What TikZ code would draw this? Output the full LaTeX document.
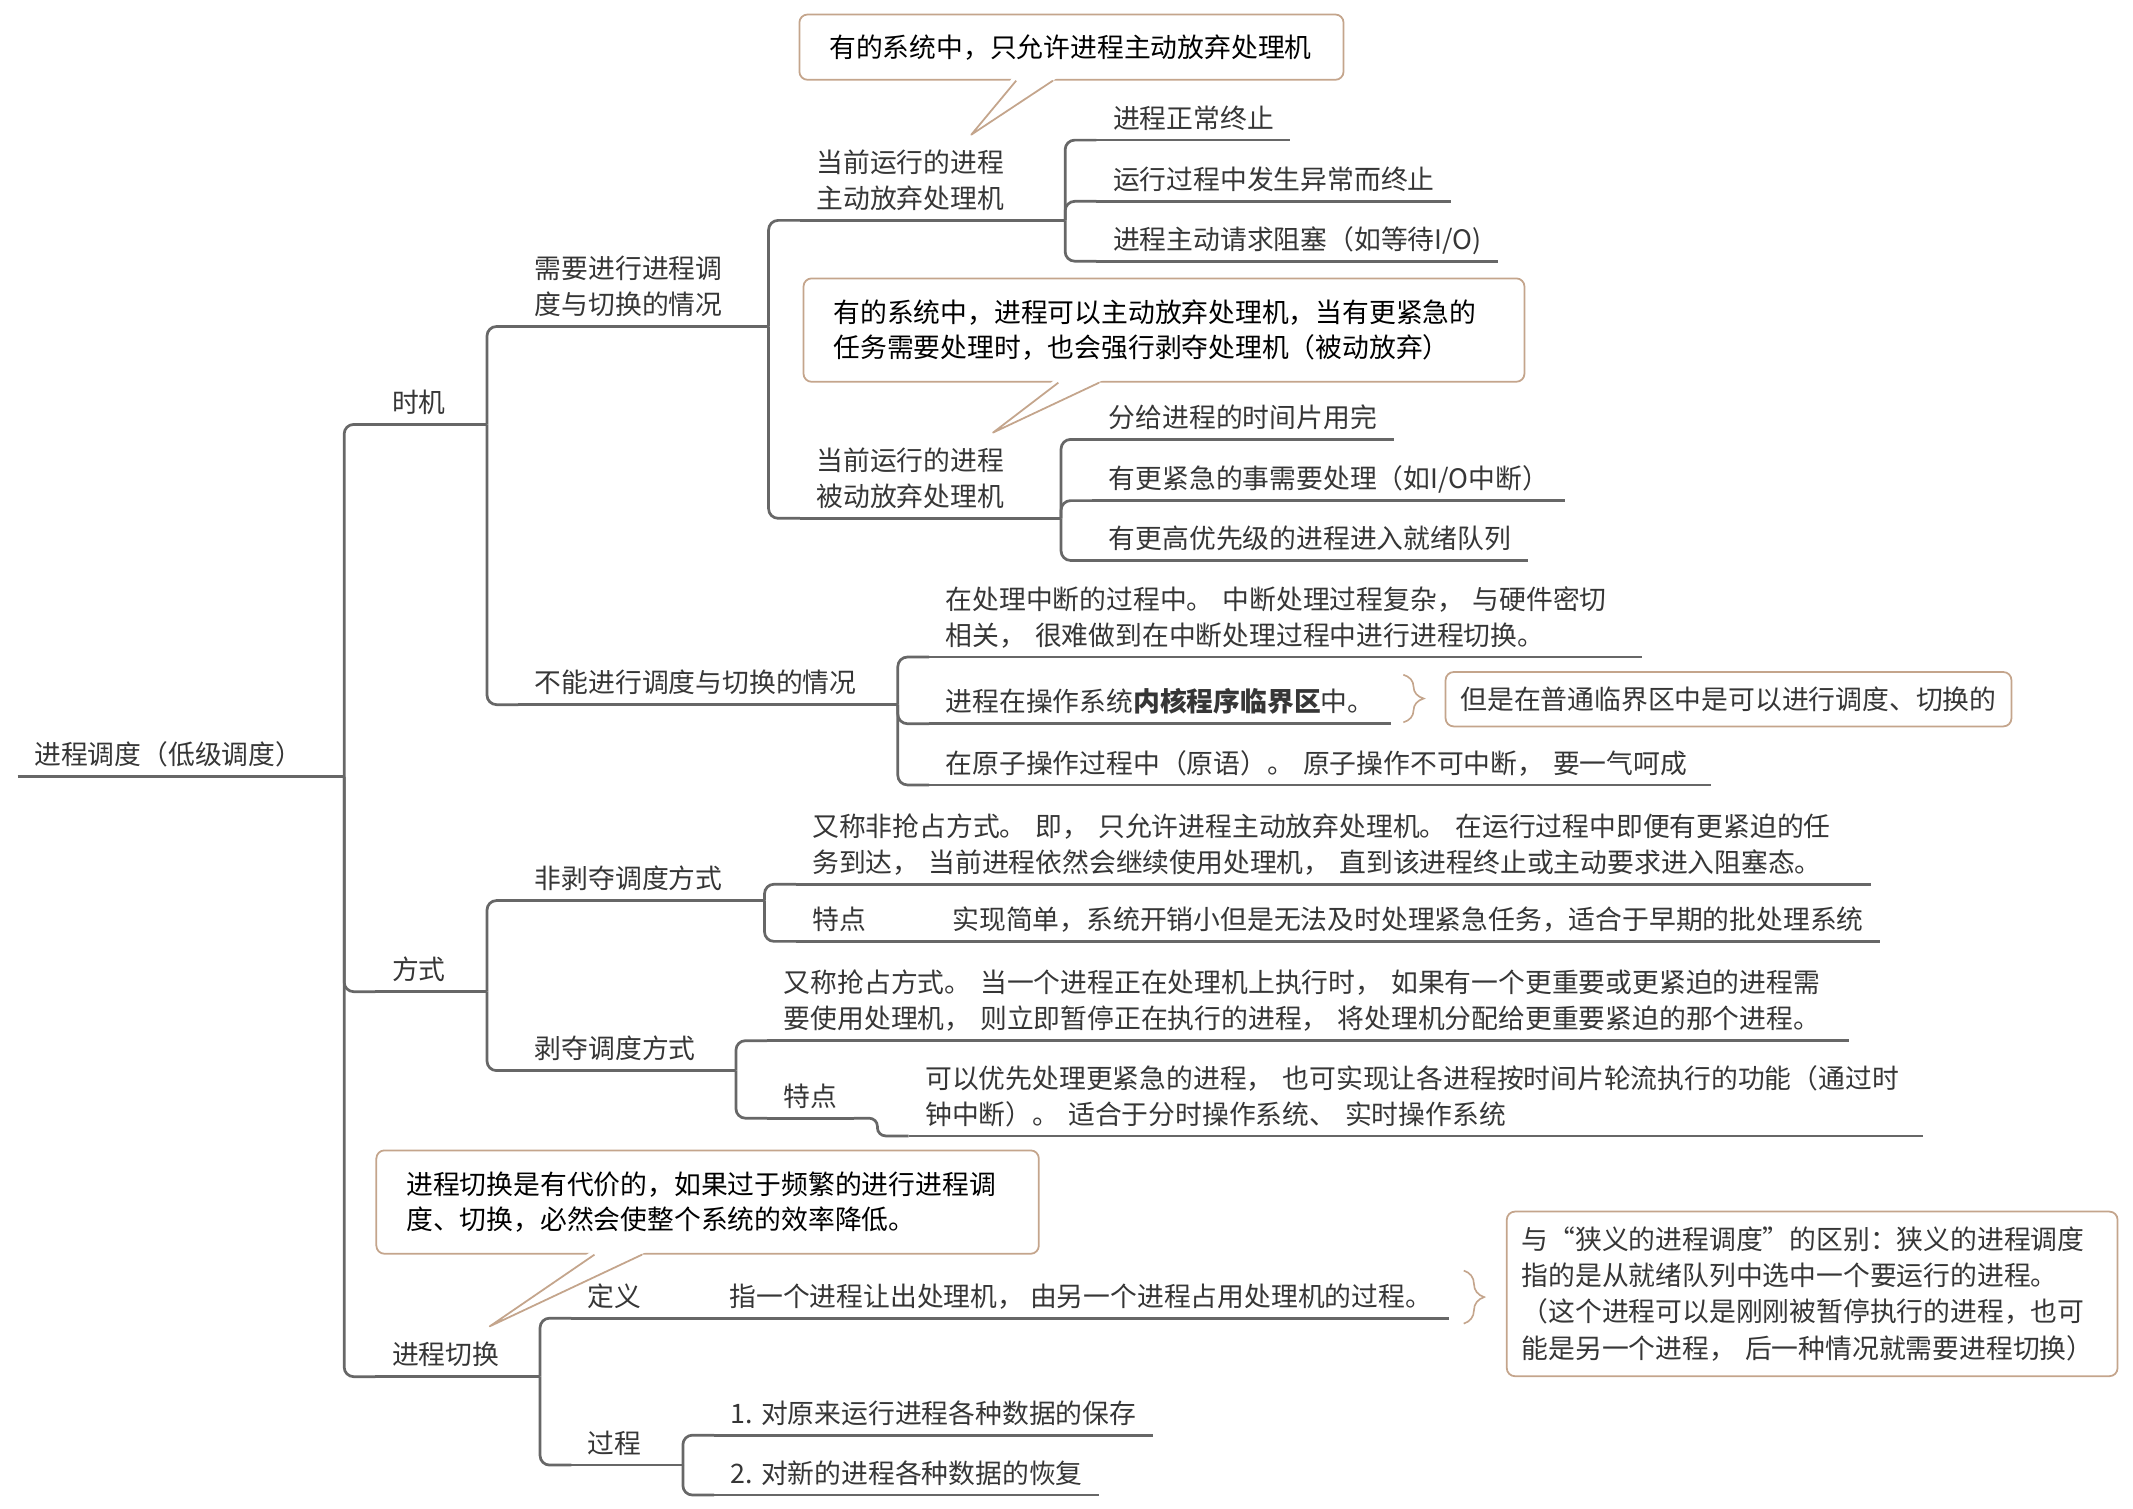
\documentclass[tikz,border=0pt]{standalone}
\usepackage{fontspec}
\setmainfont{Noto Sans CJK SC}
\usetikzlibrary{calc,decorations.pathreplacing}
\definecolor{branchgray}{HTML}{676767}
\definecolor{notetan}{HTML}{C4A58C}
\definecolor{textgray}{HTML}{363636}

\begin{document}
\begin{tikzpicture}[x=1pt, y=-1pt,
  line/.style={draw=branchgray, line width=2pt},
  topic/.style={anchor=south west, inner xsep=12pt, inner ysep=0.5pt, align=left, text=textgray,
    font=\fontsize{19.7}{26.5}\selectfont, execute at end node=\strut},
  callout/.style={draw=notetan, line width=1.3pt, rounded corners=6pt, fill=white, anchor=north west,
    inner xsep=22pt, align=left, text=black, font=\fontsize{19.7}{26.3}\selectfont},
  note/.style={draw=notetan, line width=1.3pt, rounded corners=6pt, inner xsep=11pt, align=left,
    text=textgray, font=\fontsize{19.7}{26.7}\selectfont},
  tail/.style={draw=notetan, line width=1.3pt, line join=round},
  brc/.style={draw=notetan, line width=1.2pt, decorate, decoration={brace, amplitude=15pt}}]
\useasboundingbox (0,0) rectangle (1568,1109);

\node[topic] (root) at (13,571) {进程调度（低级调度）};
\node[topic] (tm) at (276,312) {时机};
\node[topic] (xy) at (381,240) {需要进行进程调\\度与切换的情况};
\node[topic] (zd) at (588,162) {当前运行的进程\\主动放弃处理机};
\node[topic] (zd1) at (806,103) {进程正常终止};
\node[topic] (zd2) at (806,148) {运行过程中发生异常而终止};
\node[topic] (zd3) at (806,192) {进程主动请求阻塞（如等待I/O)};
\node[topic] (bd) at (588,381) {当前运行的进程\\被动放弃处理机};
\node[topic] (bd1) at (803,323) {分给进程的时间片用完};
\node[topic] (bd2) at (803,368) {有更紧急的事需要处理（如I/O中断）};
\node[topic] (bd3) at (803,412) {有更高优先级的进程进入就绪队列};
\node[topic] (bn) at (381,518) {不能进行调度与切换的情况};
\node[topic, text width=500pt] (bn1) at (683,483) {在处理中断的过程中。 中断处理过程复杂， 与硬件密切\\相关， 很难做到在中断处理过程中进行进程切换。};
\node[topic] (bn2) at (683,532) {进程在操作系统\textbf{内核程序临界区}中。};
\node[topic, text width=550pt] (bn3) at (683,577) {在原子操作过程中（原语）。 原子操作不可中断， 要一气呵成};

\node[topic] (fs) at (276,729) {方式};
\node[topic] (fb) at (381,662) {非剥夺调度方式};
\node[topic, text width=766pt] (fb1) at (585,650) {又称非抢占方式。 即， 只允许进程主动放弃处理机。 在运行过程中即便有更紧迫的任\\务到达， 当前进程依然会继续使用处理机， 直到该进程终止或主动要求进入阻塞态。};
\node[topic] (fb2) at (585,692) {特点};
\node[topic] (fb3) at (688,692) {实现简单，系统开销小但是无法及时处理紧急任务，适合于早期的批处理系统};
\node[topic] (bb) at (381,787) {剥夺调度方式};
\node[topic, text width=771pt] (bb1) at (564,765) {又称抢占方式。 当一个进程正在处理机上执行时， 如果有一个更重要或更紧迫的进程需\\要使用处理机， 则立即暂停正在执行的进程， 将处理机分配给更重要紧迫的那个进程。};
\node[topic] (bb2) at (564,822) {特点};
\node[topic, text width=721pt] (bb3) at (668,835) {可以优先处理更紧急的进程， 也可实现让各进程按时间片轮流执行的功能（通过时\\钟中断）。 适合于分时操作系统、 实时操作系统};

\node[topic] (qh) at (276,1012) {进程切换};
\node[topic] (dy) at (420,969) {定义};
\node[topic] (dy1) at (524,969) {指一个进程让出处理机， 由另一个进程占用处理机的过程。};
\node[topic] (gc) at (420,1077) {过程};
\node[topic] (gc1) at (525,1055) {1. 对原来运行进程各种数据的保存};
\node[topic] (gc2) at (525,1099) {2. 对新的进程各种数据的恢复};

\foreach \n in {root,tm,xy,zd,zd1,zd2,zd3,bd,bd1,bd2,bd3,bn,bn1,bn2,bn3,fs,fb,fb1,fb2,fb3,bb,bb1,bb2,bb3,qh,dy,dy1,gc,gc1,gc2}
  \draw[line] (\n.south west) -- (\n.south east);

\foreach \p/\c in {root/tm,root/fs,root/qh,tm/xy,tm/bn,xy/zd,xy/bd,zd/zd1,zd/zd2,zd/zd3,bd/bd1,bd/bd2,bd/bd3,
    bn/bn1,bn/bn2,bn/bn3,fs/fb,fs/bb,fb/fb1,fb/fb2,bb/bb1,bb/bb2,qh/dy,qh/gc,gc/gc1,gc/gc2}{
  \draw[line] (\p.south east) -- ([xshift=-23pt]\c.south west |- \p.south east);
  \draw[line, rounded corners=7pt] ([xshift=-23pt]\c.south west |- \p.south east) |- (\c.south west);
}
\draw[line] (fb2.south east) -- (fb3.south west);
\draw[line] (dy.south east) -- (dy1.south west);
\draw[line, rounded corners=6pt] (bb2.south east) -- ([xshift=-23pt]bb3.south west |- bb2.south east)
  -- ([xshift=-23pt]bb3.south west) -- (bb3.south west);

\node[note, anchor=west, minimum height=40pt] (nt1) at (1062,514) {但是在普通临界区中是可以进行调度、切换的};
\draw[brc] ([xshift=9pt,yshift=36pt]bn2.south east) -- ([xshift=9pt,yshift=1pt]bn2.south east);
\node[note, anchor=north west, text width=427pt, minimum height=121pt] (nt2) at (1107,890) {与“狭义的进程调度”的区别：狭义的进程调度\\指的是从就绪队列中选中一个要运行的进程。\\（这个进程可以是刚刚被暂停执行的进程，也可\\能是另一个进程， 后一种情况就需要进程切换）};
\draw[brc] ([xshift=11pt,yshift=35pt]dy1.south east) -- ([xshift=11pt,yshift=-4pt]dy1.south east);

\node[callout, text width=356pt, minimum height=48pt] (c1) at (587,10) {有的系统中，只允许进程主动放弃处理机};
\coordinate (t1) at (714,99);
\fill[white] ([xshift=157pt,yshift=2pt]c1.south west) -- (t1) -- ([xshift=190pt,yshift=2pt]c1.south west) -- cycle;
\draw[tail] ([xshift=160pt]c1.south west) -- (t1) -- ([xshift=187pt]c1.south west);

\node[callout, text width=486pt, minimum height=76pt] (c2) at (590,204) {有的系统中，进程可以主动放弃处理机，当有更紧急的\\任务需要处理时，也会强行剥夺处理机（被动放弃）};
\coordinate (t2) at (730,318);
\fill[white] ([xshift=185pt,yshift=2pt]c2.south west) -- (t2) -- ([xshift=221pt,yshift=2pt]c2.south west) -- cycle;
\draw[tail] ([xshift=188pt]c2.south west) -- (t2) -- ([xshift=218pt]c2.south west);

\node[callout, text width=443pt, minimum height=76pt] (c3) at (276,845) {进程切换是有代价的，如果过于频繁的进行进程调\\度、切换，必然会使整个系统的效率降低。};
\coordinate (t3) at (360,975);
\fill[white] ([xshift=158pt,yshift=2pt]c3.south west) -- (t3) -- ([xshift=199pt,yshift=2pt]c3.south west) -- cycle;
\draw[tail] ([xshift=161pt]c3.south west) -- (t3) -- ([xshift=196pt]c3.south west);
\end{tikzpicture}
\end{document}
